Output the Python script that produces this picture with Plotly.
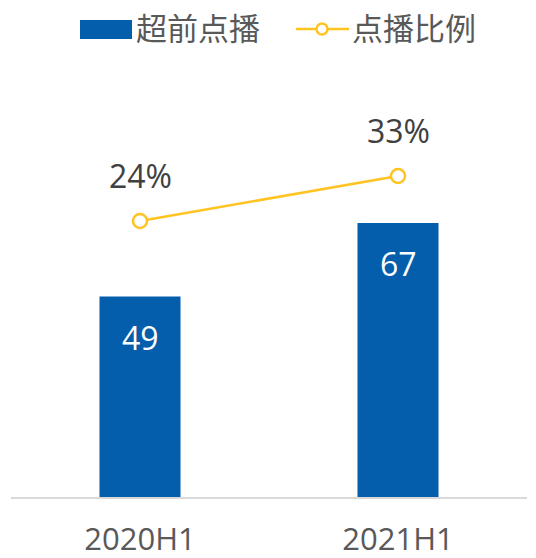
import plotly.graph_objects as go

categories = ["2020H1", "2021H1"]
bar_values = [49, 67]
ratio_values = [24, 33]
bar_name = "超前点播"
line_name = "点播比例"

BAR_COLOR = "#045EAC"
LINE_COLOR = "#FFC322"
TEXT_GREY = "#595959"
FONT = "Open Sans, Noto Sans CJK SC, sans-serif"

W, H = 536, 558
ML, MR, MT, MB = 11, 9, 60, 61
PW, PH = W - ML - MR, H - MT - MB


def px(x):
    return (x - ML) / PW


def py(y):
    return (H - MB - y) / PH


fig = go.Figure()
fig.add_trace(go.Bar(
    x=categories, y=bar_values, name=bar_name,
    marker=dict(color=BAR_COLOR, line=dict(width=0)),
    width=0.314, showlegend=False, hoverinfo="skip",
))
fig.add_trace(go.Scatter(
    x=categories, y=ratio_values, name=line_name, yaxis="y2",
    mode="lines+markers",
    line=dict(color=LINE_COLOR, width=2.5),
    marker=dict(size=14, color="white", line=dict(color=LINE_COLOR, width=2.5)),
    showlegend=False, hoverinfo="skip",
))

annotations = []
for c, v in zip(categories, bar_values):
    annotations.append(dict(x=c, y=v, xref="x", yref="y", text=str(v),
                            showarrow=False, yshift=-41,
                            font=dict(family=FONT, size=32, color="white")))
for c, v in zip(categories, ratio_values):
    annotations.append(dict(x=c, y=v, xref="x", yref="y2", text=f"{v}%",
                            showarrow=False, yshift=46,
                            font=dict(family=FONT, size=32, color="#404040")))

# custom legend
annotations.append(dict(x=px(134), y=py(28), xref="paper", yref="paper",
                        xanchor="left", yanchor="middle", text=bar_name,
                        showarrow=False, font=dict(family=FONT, size=31, color=TEXT_GREY)))
annotations.append(dict(x=px(350), y=py(28), xref="paper", yref="paper",
                        xanchor="left", yanchor="middle", text=line_name,
                        showarrow=False, font=dict(family=FONT, size=31, color=TEXT_GREY)))

shapes = [
    dict(type="rect", xref="paper", yref="paper",
         x0=px(80), x1=px(132), y0=py(39), y1=py(20),
         fillcolor=BAR_COLOR, line=dict(width=0)),
    dict(type="line", xref="paper", yref="paper",
         x0=px(296), x1=px(349), y0=py(29), y1=py(29),
         line=dict(color=LINE_COLOR, width=2.5)),
    dict(type="circle", xref="paper", yref="paper",
         x0=px(316.5), x1=px(327.5), y0=py(34.5), y1=py(23.5),
         fillcolor="white", line=dict(color=LINE_COLOR, width=2.5)),
]

y1_per_px = 1 / 4.09
y2_zero_px = 341
y2_per_px = 1 / 5.0

fig.update_layout(
    width=W, height=H,
    margin=dict(l=ML, r=MR, t=MT, b=MB, pad=0, autoexpand=False),
    paper_bgcolor="white", plot_bgcolor="white",
    bargap=0.5,
    xaxis=dict(
        type="category", range=[-0.5, 1.5], automargin=False,
        showline=True, linecolor="#D9D9D9", linewidth=2,
        showgrid=False, ticks="", zeroline=False,
        tickfont=dict(family=FONT, size=31, color=TEXT_GREY),
        ticklabelstandoff=14,
    ),
    yaxis=dict(
        range=[0, PH * y1_per_px], automargin=False,
        visible=False, showgrid=False, zeroline=False,
    ),
    yaxis2=dict(
        overlaying="y", side="right", automargin=False,
        range=[(y2_zero_px - (H - MB)) * y2_per_px, (y2_zero_px - MT) * y2_per_px],
        visible=False, showgrid=False, zeroline=False,
    ),
    annotations=annotations,
    shapes=shapes,
    showlegend=False,
)

fig.write_html(
    "out.html",
    config={"displayModeBar": False, "staticPlot": True},
    post_script="document.body.style.margin='0';document.body.style.overflow='hidden';",
)
